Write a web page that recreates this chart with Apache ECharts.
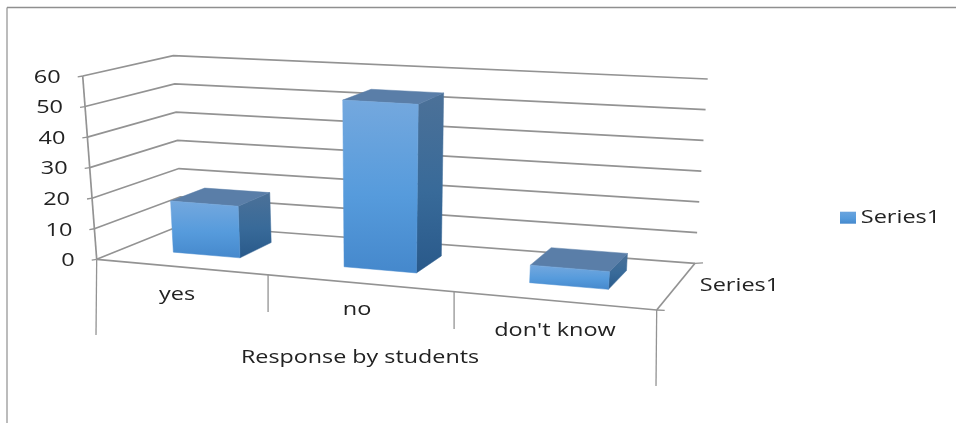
<!DOCTYPE html>
<html><head><meta charset="utf-8">
<style>html,body{margin:0;padding:0;background:#fff}#c{width:956px;height:423px}</style>
<script src="https://cdn.jsdelivr.net/npm/echarts@6/dist/echarts.min.js"></script>
</head><body><div id="c"></div>
<script>
const categories = ["yes", "no", "don't know"];
const values = [17, 54, 5.5];
const yTicks = [0, 10, 20, 30, 40, 50, 60];
const seriesName = "Series1";
const xAxisTitle = "Response by students";

const LINE = '#939393', FONT = 'Open Sans', TXT = '#222';
// floor and height corners of the projected box (A front-left, B front-right, C back-right, D back-left)
const F = {A:[96.7,259.3],B:[656.7,310],C:[695,263.3],D:[181.7,225]};
const H = {A:[-14,-183.3],B:[15,-200],C:[12.7,-184.3],D:[-8.4,-169.3]};
const K = 0.882;
const warp = t => K*t/(1+(K-1)*t);
function bil(Q,u,d,i){return Q.A[i]*(1-u)*(1-d)+Q.B[i]*u*(1-d)+Q.C[i]*u*d+Q.D[i]*(1-u)*d;}
function proj(t,v,d){const u=warp(t);return [bil(F,u,d,0)+v*bil(H,u,d,0),bil(F,u,d,1)+v*bil(H,u,d,1)];}
const grad=(a,b,c)=>new echarts.graphic.LinearGradient(0,0,0,1,[{offset:0,color:a},{offset:.55,color:b},{offset:1,color:c}]);
const poly=(pts,fill)=>({type:'polygon',shape:{points:pts},style:{fill,stroke:fill,lineWidth:.5}});
const seg=(pts,w)=>({type:'polyline',shape:{points:pts},style:{fill:'none',stroke:LINE,lineWidth:w||1.7}});
const txt=(text,x,y,size,sx,align)=>({type:'text',x,y,scaleX:sx,style:{text,x:0,y:0,fill:TXT,fontFamily:FONT,fontSize:size,align:align||'center',verticalAlign:'middle'}});
const frac=(p,api,cs)=>{const c=api.coord(p);return [(c[0]-cs.x)/cs.width,(cs.y+cs.height-c[1])/cs.height];};

const gridFrame=(params,api)=>{
  const cs=params.coordSys;
  const value=api.value(0);
  const v=frac([0,value],api,cs)[1];
  const tick=proj(0,v,0);
  return {type:'group',children:[
    seg([proj(0,v,0),proj(0,v,1),proj(1,v,1)]),
    seg([[tick[0]-5,tick[1]+.8],tick],1.3),
    txt(String(value),tick[0]-22,tick[1]+1.5,18.5,1.27,'right')
  ]};
};
const bars=(params,api)=>{
  const cs=params.coordSys, band=api.size([1,0])[0]/cs.width;
  const p=frac([api.value(0),api.value(1)],api,cs), w=band*0.4;
  const t0=p[0]-w/2,t1=p[0]+w/2,v=p[1],d0=.33,d1=.745;
  const fb0=proj(t0,0,d0),fb1=proj(t1,0,d0),ft0=proj(t0,v,d0),ft1=proj(t1,v,d0);
  const bb1=proj(t1,0,d1),bt0=proj(t0,v,d1),bt1=proj(t1,v,d1);
  return {type:'group',children:[
    poly([ft1,fb1,bb1,bt1],grad('#4C7198','#386A99','#29598A')),
    poly([ft0,ft1,bt1,bt0],'#5A7EA8'),
    poly([ft0,ft1,fb1,fb0],grad('#74A8DE','#569BDC','#4588CC'))
  ]};
};
const floor=(params,api)=>{
  const f=(t,d)=>proj(t,0,d);
  const a=f(0,0),b=f(1,0),c=f(1,1),t1=f(1/3,0),t2=f(2/3,0);
  return {type:'group',silent:true,children:[
    seg([a,b]),seg([b,c]),seg([proj(0,1,0),a]),
    seg([a,[a[0]-.7,335]],1.3),seg([b,[b[0]-.7,386]],1.3),
    seg([t1,[t1[0],312]],1.3),seg([t2,[t2[0],329]],1.3),
    seg([c,[c[0]+8,c[1]-.5]],1.3),seg([b,[b[0]+8,b[1]+.3]],1.3),
    {type:'line',shape:{x1:7,y1:423,x2:7,y2:7.5},style:{stroke:'#8f8f8f',lineWidth:1.2}},
    {type:'line',shape:{x1:7,y1:7.5,x2:956,y2:7.5},style:{stroke:'#8f8f8f',lineWidth:1.5}},
    txt(xAxisTitle,360,358,18.5,1.26),
    txt(seriesName,739.5,286,18.5,1.27),
    txt(seriesName,900.5,217.5,18.5,1.27)
  ]};
};
const labels=(params,api)=>{
  const pos=[[177,295],[357,310],[555,331]][api.value(0)];
  return txt(categories[api.value(0)],pos[0],pos[1],18.5,1.27);
};

const chart=echarts.init(document.getElementById('c'),null,{renderer:'canvas'});
chart.setOption({
  animation:false,
  backgroundColor:'#fff',
  legend:{data:[{name:seriesName,icon:'rect',itemStyle:{color:grad('#6AA4DE','#569BDC','#4588CC')}}],
    left:835,top:206.7,itemWidth:16,itemHeight:12,itemGap:0,formatter:()=>' ',
    textStyle:{fontSize:12,color:TXT}},
  grid:{left:66,right:300,top:76,bottom:163,containLabel:false},
  xAxis:{type:'category',data:categories,axisLabel:{show:false},axisLine:{show:false},axisTick:{show:false},
    splitLine:{show:false}},
  yAxis:{type:'value',min:0,max:60,interval:10,axisLine:{show:false},axisTick:{show:false},splitLine:{show:false},
    axisLabel:{show:false}},
  series:[
    {type:'custom',name:'frame',coordinateSystem:'cartesian2d',renderItem:gridFrame,data:yTicks.map(t=>[t]),encode:{x:null,y:0},clip:false,silent:true,z:1},
    {type:'custom',name:'floor',coordinateSystem:'cartesian2d',renderItem:floor,data:[[0]],clip:false,silent:true,z:2},
    {type:'custom',name:seriesName,coordinateSystem:'cartesian2d',renderItem:bars,data:values.map((v,i)=>[i,v]),encode:{x:0,y:1},clip:false,z:3},
    {type:'custom',name:'labels',coordinateSystem:'cartesian2d',renderItem:labels,data:categories.map((c,i)=>[i]),clip:false,silent:true,z:4}
  ]
});
</script></body></html>
